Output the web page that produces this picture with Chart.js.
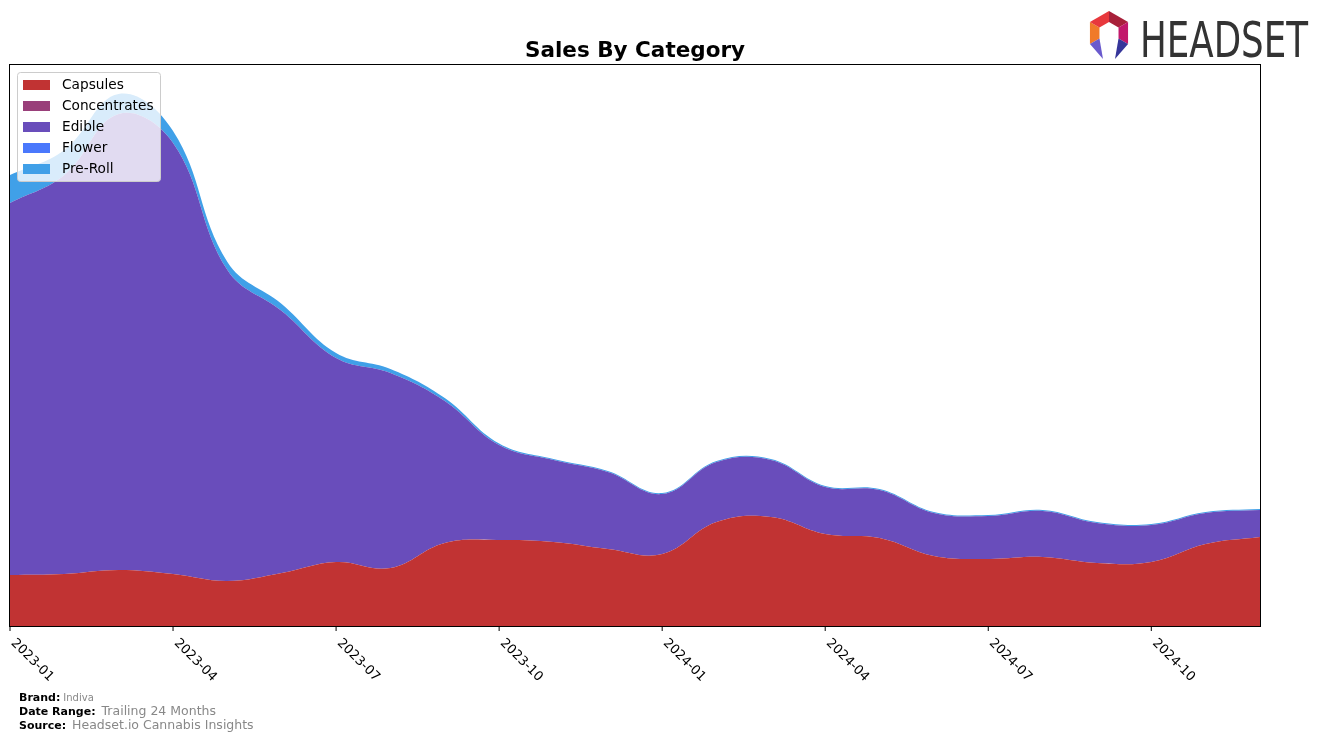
<!DOCTYPE html>
<html lang="en">

<head>
    <meta charset="UTF-8">
    <title>Sales By Category</title>
    <style>
        body { margin: 0; background: #fff; }
        #wrap { width: 1324px; height: 742px; }
    </style>
</head>

<body>
    <div id="wrap">
        <canvas id="myChart" width="1324" height="742"></canvas>
    </div>
    <script src="https://cdn.jsdelivr.net/npm/chart.js/dist/chart.umd.min.js"></script>
    <script>
        // data (stacked heights, arbitrary units)
        const months = ['2023-01', '2023-02', '2023-03', '2023-04', '2023-05', '2023-06',
            '2023-07', '2023-08', '2023-09', '2023-10', '2023-11', '2023-12',
            '2024-01', '2024-02', '2024-03', '2024-04', '2024-05', '2024-06',
            '2024-07', '2024-08', '2024-09', '2024-10', '2024-11', '2024-12'];
        const tickMonths = ['2023-01', '2023-04', '2023-07', '2023-10', '2024-01', '2024-04', '2024-07', '2024-10'];

        const capsules = [51, 52, 56, 52, 45, 53, 64, 58, 83, 86, 84, 77, 72, 104, 109, 92, 88, 70, 67, 69, 63, 64, 82, 89];
        const concentrates = [0, 0, 0, 0, 0, 0, 0, 0, 0, 0, 0, 0, 0, 0, 0, 0, 0, 0, 0, 0, 0, 0, 0, 0];
        const edible = [372, 399, 456, 431, 311, 262, 204, 195, 142, 95, 82, 77, 60, 60, 57, 47, 48, 43, 43, 46, 40, 37, 31, 27];
        const flower = [0, 0, 0, 0, 0, 0, 0, 0, 0, 0, 0, 0, 0, 0, 0, 0, 0, 0, 0, 0, 0, 0, 0, 0];
        const preRoll = [28, 25, 20, 12, 8, 7, 5, 4, 3, 1.5, 1, 1, 1, 1, 1, 1, 1, 1, 1, 1, 1, 1, 1, 1];

        const categories = ['Capsules', 'Concentrates', 'Edible', 'Flower', 'Pre-Roll'];
        const colors = ['#c13333', '#993f7a', '#694dbb', '#4a78fc', '#40a0e8'];
        const series = [capsules, concentrates, edible, flower, preRoll];

        const FONT = '"DejaVu Sans", sans-serif';

        // title, legend, frame, rotated ticks, footer and logo
        const decor = {
            id: 'decor',
            afterDraw(chart) {
                const ctx = chart.ctx;
                const a = chart.chartArea;
                const xs = chart.scales.x;
                ctx.save();

                // frame
                ctx.strokeStyle = '#000';
                ctx.lineWidth = 1;
                ctx.strokeRect(a.left - 0.5, a.top - 0.5, a.right - a.left + 1, a.bottom - a.top + 1);

                // title
                ctx.fillStyle = '#000';
                ctx.font = 'bold 21.5px ' + FONT;
                ctx.textAlign = 'center';
                ctx.textBaseline = 'middle';
                ctx.fillText('Sales By Category', (a.left + a.right) / 2, 51);

                // tick marks + rotated labels
                ctx.font = '13px ' + FONT;
                ctx.textAlign = 'left';
                ctx.textBaseline = 'middle';
                tickMonths.forEach(m => {
                    const x = xs.getPixelForValue(months.indexOf(m));
                    ctx.beginPath();
                    ctx.moveTo(x, a.bottom);
                    ctx.lineTo(x, a.bottom + 5);
                    ctx.stroke();
                    ctx.save();
                    ctx.translate(x + 3, a.bottom + 15);
                    ctx.rotate(Math.PI / 4);
                    ctx.fillText(m, 0, 0);
                    ctx.restore();
                });

                // legend
                const lx = 17, ly = 72, lw = 143, lh = 109;
                ctx.fillStyle = 'rgba(255,255,255,0.8)';
                ctx.strokeStyle = '#cccccc';
                ctx.beginPath();
                ctx.roundRect(lx + 0.5, ly + 0.5, lw, lh, 3);
                ctx.fill();
                ctx.stroke();
                ctx.font = '13.7px ' + FONT;
                ctx.textBaseline = 'middle';
                chart.data.datasets.forEach((ds, i) => {
                    const y = 85 + i * 21;
                    ctx.fillStyle = ds.backgroundColor;
                    ctx.fillRect(23, y - 5, 27, 10);
                    ctx.fillStyle = '#000';
                    ctx.fillText(ds.label, 62, y);
                });

                // footer
                const foot = [
                    ['Brand:', 'Indiva', 698, '10px'],
                    ['Date Range:', 'Trailing 24 Months', 712, '12.5px'],
                    ['Source:', 'Headset.io Cannabis Insights', 726, '12.5px']
                ];
                foot.forEach(f => {
                    ctx.font = 'bold 11px ' + FONT;
                    ctx.fillStyle = '#000';
                    ctx.fillText(f[0], 19, f[2]);
                    const w = ctx.measureText(f[0]).width;
                    ctx.font = f[3] + ' ' + FONT;
                    ctx.fillStyle = '#888';
                    ctx.fillText(f[1], 19 + w + (f[3] === '10px' ? 3 : 6), f[2]);
                });

                // logo
                ctx.fillStyle = '#333';
                ctx.font = '50px "DejaVu Sans Condensed", ' + FONT;
                ctx.textBaseline = 'alphabetic';
                const tw = ctx.measureText('HEADSET').width;
                ctx.save();
                ctx.translate(1140, 57);
                ctx.scale(168 / tw, 1);
                ctx.fillText('HEADSET', 0, 0);
                ctx.restore();
                const cx = 1109, cy = 33, R = 22, r = 11;
                const pt = (deg, rad) => [cx + rad * Math.cos(deg * Math.PI / 180), cy + rad * Math.sin(deg * Math.PI / 180)];
                const segs = [
                    ['#f07a2a', 150, 210], ['#e8383d', 210, 270],
                    ['#a8203a', 270, 330], ['#c2186b', 330, 390]
                ];
                segs.forEach(s => {
                    const p = [pt(s[1], R), pt(s[2], R), pt(s[2], r), pt(s[1], r)];
                    ctx.fillStyle = s[0];
                    ctx.beginPath();
                    p.forEach((q, k) => k ? ctx.lineTo(q[0], q[1]) : ctx.moveTo(q[0], q[1]));
                    ctx.closePath();
                    ctx.fill();
                });
                const legs = [
                    ['#6a5acd', [pt(150, R), pt(150, r), [cx - 6, cy + 26]]],
                    ['#36369a', [pt(30, R), pt(30, r), [cx + 6, cy + 26]]]
                ];
                legs.forEach(l => {
                    ctx.fillStyle = l[0];
                    ctx.beginPath();
                    l[1].forEach((q, k) => k ? ctx.lineTo(q[0], q[1]) : ctx.moveTo(q[0], q[1]));
                    ctx.closePath();
                    ctx.fill();
                });

                ctx.restore();
            }
        };

        const data = {
            labels: months,
            datasets: categories.map((c, i) => ({
                label: c,
                data: series[i],
                backgroundColor: colors[i],
                borderColor: colors[i],
                borderWidth: 0,
                fill: i === 0 ? 'origin' : '-1',
                tension: 0.4,
                pointRadius: 0
            }))
        };

        const config = {
            type: 'line',
            data: data,
            options: {
                responsive: false,
                animation: false,
                layout: { padding: { left: 10, right: 64, top: 65, bottom: 0 } },
                plugins: {
                    legend: { display: false },
                    title: { display: false },
                    tooltip: { enabled: false }
                },
                scales: {
                    x: {
                        offset: false,
                        grid: { display: false, drawTicks: false },
                        border: { display: false },
                        ticks: { display: false },
                        afterFit(s) { s.height = 116; }
                    },
                    y: {
                        display: false,
                        stacked: true,
                        min: 0,
                        max: 561
                    }
                }
            },
            plugins: [decor]
        };

        const myChart = new Chart(document.getElementById('myChart'), config);
    </script>
</body>

</html>
